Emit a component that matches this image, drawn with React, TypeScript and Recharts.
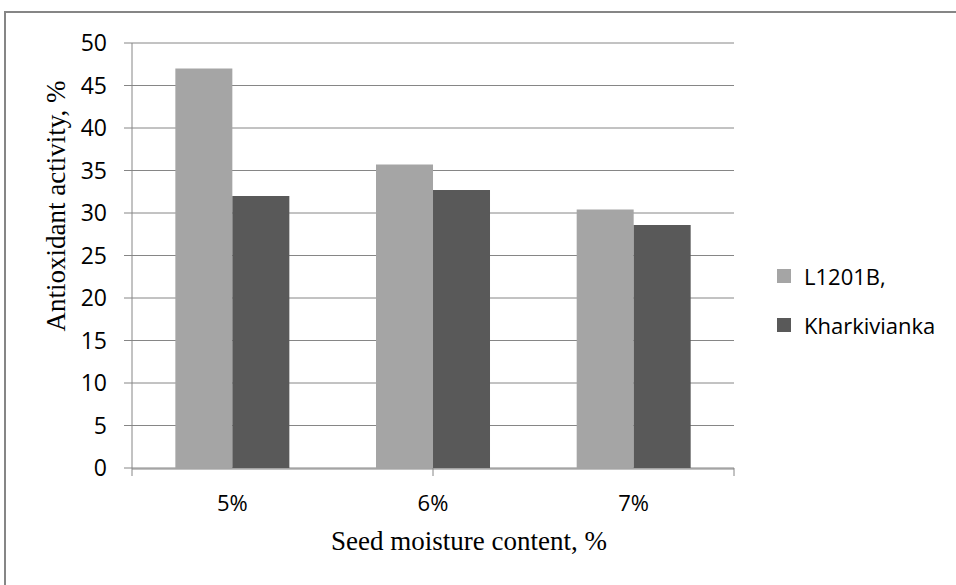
import React from "react";
import { BarChart, Bar, XAxis, YAxis, CartesianGrid, Legend } from "recharts";

const categories = ["5%", "6%", "7%"];
const l1201b = [47, 35.7, 30.4];
const kharkivianka = [32, 32.7, 28.6];
const yTicks = [0, 5, 10, 15, 20, 25, 30, 35, 40, 45, 50];
const boundaryTicks = [0, 1, 2, 3];
const seriesNames = ["L1201B,", "Kharkivianka"];
const seriesColors = ["#A5A5A5", "#595959"];

const data = categories.map((c, i) => ({
  cat: c,
  a: l1201b[i],
  b: kharkivianka[i],
}));

const AXIS = "#868686";
const SANS = "'Open Sans', 'Noto Sans', sans-serif";
const SERIF = "'Liberation Serif', 'DejaVu Serif', serif";

const LegendContent = () => (
  <div style={{ fontFamily: SANS, fontSize: 22, color: "#000", lineHeight: "28px" }}>
    {seriesNames.map((n, i) => (
      <div key={n} style={{ display: "flex", alignItems: "center", height: 28, marginBottom: i === 0 ? 21 : 0 }}>
        <span style={{ display: "inline-block", width: 14, height: 14, background: seriesColors[i], marginRight: 13 }} />
        <span>{n}</span>
      </div>
    ))}
  </div>
);

export default function App() {
  return (
    <div style={{ position: "absolute", left: 0, top: 0, width: 956, height: 585, background: "#fff", overflow: "hidden" }}>
      <div style={{ position: "absolute", left: 4, top: 11, width: 1000, height: 1000, borderTop: `2px solid ${AXIS}`, borderLeft: `2px solid ${AXIS}` }} />
      <BarChart
        width={956}
        height={585}
        data={data}
        margin={{ top: 43, right: 222, bottom: 0, left: 0 }}
        barCategoryGap="21.6%"
        barGap={0}
        style={{ position: "absolute", left: 0, top: 0 }}
      >
        <CartesianGrid vertical={false} stroke={AXIS} strokeWidth={1} />
        <XAxis
          xAxisId="cat"
          dataKey="cat"
          height={116}
          axisLine={{ stroke: AXIS }}
          tickLine={false}
          tickSize={0}
          tickMargin={26}
          tick={{ fontFamily: SANS, fontSize: 22, fill: "#000" }}
          label={() => (
            <text x={469} y={550} textAnchor="middle" fontFamily={SERIF} fontSize={27} fill="#000">
              Seed moisture content, %
            </text>
          )}
        />
        <XAxis
          xAxisId="bound"
          type="number"
          domain={[0, 3]}
          ticks={boundaryTicks}
          interval={0}
          height={1}
          axisLine={false}
          tickLine={{ stroke: AXIS }}
          tickSize={8}
          tickFormatter={() => ""}
          allowDataOverflow
        />
        <YAxis
          width={132}
          domain={[0, 50]}
          ticks={yTicks}
          interval={0}
          axisLine={{ stroke: AXIS }}
          tickLine={{ stroke: AXIS }}
          tickSize={8}
          tickMargin={17}
          tick={{ fontFamily: SANS, fontSize: 23, fill: "#000" }}
          label={() => (
            <text x={65} y={206} textAnchor="middle" fontFamily={SERIF} fontSize={27} fill="#000" transform="rotate(-90 65 206)">
              Antioxidant activity, %
            </text>
          )}
        />
        <Legend
          layout="vertical"
          content={LegendContent}
          wrapperStyle={{ position: "absolute", left: 777, top: 262, width: 179, height: 0, overflow: "visible" }}
        />
        <Bar xAxisId="cat" dataKey="a" name={seriesNames[0]} fill={seriesColors[0]} isAnimationActive={false} />
        <Bar xAxisId="cat" dataKey="b" name={seriesNames[1]} fill={seriesColors[1]} isAnimationActive={false} />
      </BarChart>
    </div>
  );
}
